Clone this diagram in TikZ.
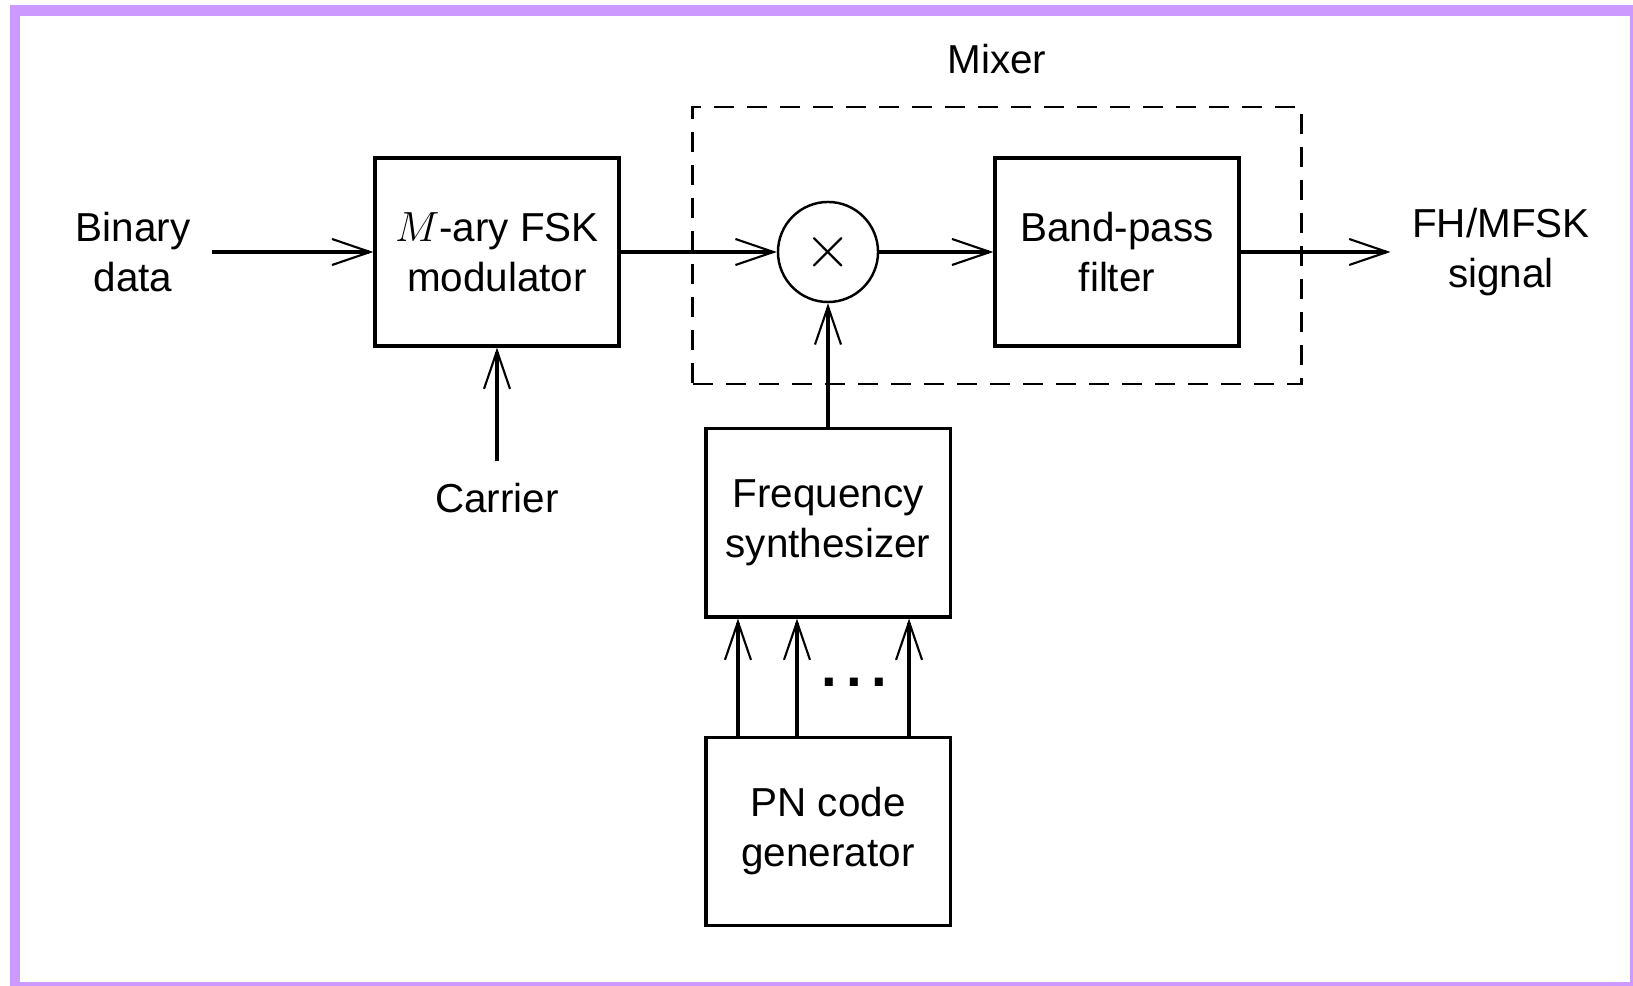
\documentclass[tikz,border=0pt]{standalone}
\usepackage{fontspec}
\setmainfont{Liberation Sans}
\usepackage{tikz}
\usetikzlibrary{arrows.meta, positioning}
\definecolor{framelilac}{RGB}{204,153,255}

\begin{document}
\begin{tikzpicture}[
      x=0.01cm, y=-0.01cm,
      font=\fontsize{11.5}{14.2}\selectfont,
      block/.style={draw, line width=0.9pt, minimum width=2.44cm,
                    minimum height=1.88cm, align=center, inner sep=2pt},
      mult/.style={draw, circle, line width=0.7pt, minimum size=1.0cm,
                   inner sep=0pt, font=\LARGE},
      lbl/.style={align=center, inner sep=6pt},
      mixbox/.style={draw, line width=0.8pt,
                     dash pattern=on 0.2cm off 0.13cm,
                     minimum width=6.08cm, minimum height=2.77cm},
      arrow/.style={-{Straight Barb[length=0.38cm, width=0.26cm, line width=0.6pt]},
                    line width=1.2pt},
    ]
    \useasboundingbox (0,0) rectangle (1633,986);
    % lilac frame
    \fill[framelilac] (10,5) rectangle (1633,16);
    \fill[framelilac] (10,5) rectangle (20,986);
    \fill[framelilac] (1630,5) rectangle (1633,986);
    \fill[framelilac] (10,982) rectangle (1633,986);

    \node[block] (mod) at (497,252) {$M$-ary FSK\\modulator};
    \node[mult, right=1.56cm of mod] (mix) {$\times$};
    \node[block, right=1.14cm of mix] (bpf) {Band-pass\\filter};
    \node[block, below=1.24cm of mix] (synth) {Frequency\\synthesizer};
    \node[block, below=1.17cm of synth] (pn) {PN code\\generator};

    \node[mixbox] (mixer) at (997,245.5) {};
    \node (mixlbl) at (997,59) {Mixer};

    \node[lbl] (bin) at (133,252) {Binary\\data};
    \node[lbl] (out) at (1501,252) {FH/MFSK\\signal};
    \node[lbl] (car) at (497,498) {Carrier};
    \node (dots) at (854,682) {\fontsize{16}{16}\selectfont\textbf{.\,.\,.}};

    \draw[arrow] (bin)   -- (mod);
    \draw[arrow] (car)   -- (mod);
    \draw[arrow] (mod)   -- (mix);
    \draw[arrow] (mix)   -- (bpf);
    \draw[arrow] (bpf)   -- (out);
    \draw[arrow] (synth) -- (mix);

    % PN code lines into the synthesizer
    \foreach \dx in {-0.9,-0.31,0.81}
      \draw[arrow] ([xshift=\dx cm]pn.north) -- ([xshift=\dx cm]synth.south);
  \end{tikzpicture}
\end{document}
